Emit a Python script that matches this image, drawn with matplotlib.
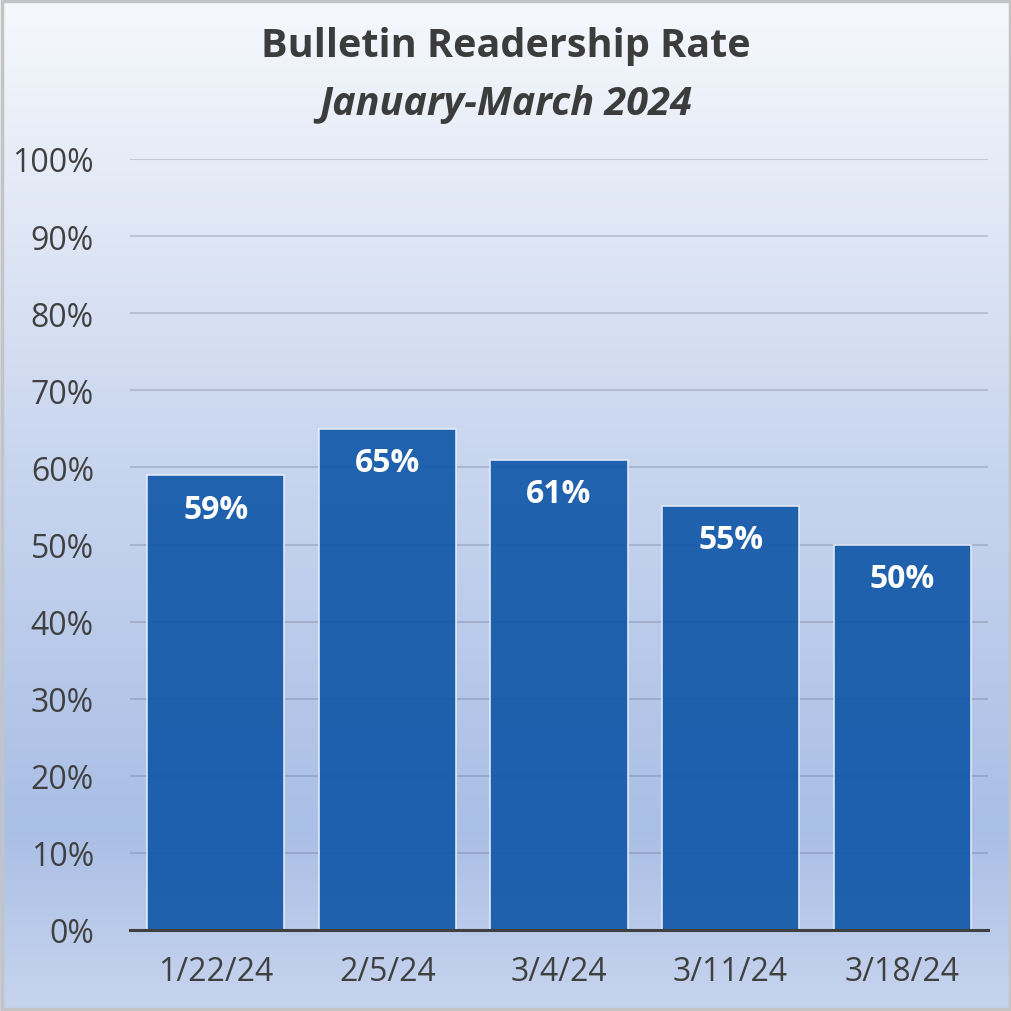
import numpy as np
import matplotlib
matplotlib.use('Agg')
from matplotlib import pyplot as plt
from matplotlib.colors import LinearSegmentedColormap

plt.rcParams['font.family'] = ['Open Sans', 'DejaVu Sans']

# data
dates = ['1/22/24', '2/5/24', '3/4/24', '3/11/24', '3/18/24']
rates = [59, 65, 61, 55, 50]
y_ticks = list(range(0, 101, 10))
y_labels = [f'{t}%' for t in y_ticks]

fig = plt.figure(figsize=(10.12, 10.12), dpi=100)

# gradient background for the whole figure
bg = fig.add_axes([0, 0, 1, 1], zorder=-10)
grad_cmap = LinearSegmentedColormap.from_list(
    'bg', [(0.0, '#c7d4ee'), (0.18, '#aabfe6'), (0.55, '#c9d6ef'), (1.0, '#f6f8fc')])
bg.imshow(np.linspace(0, 1, 256).reshape(-1, 1), aspect='auto', cmap=grad_cmap,
          origin='lower', extent=[0, 1, 0, 1])
bg.set_xlim(0, 1)
bg.set_ylim(0, 1)
bg.axis('off')
bg.add_patch(plt.Rectangle((0.0015, 0.0015), 0.997, 0.997, transform=bg.transAxes,
                           fill=False, edgecolor='#c4c4c4', linewidth=2.5))

ax = fig.add_axes([130/1012, 1 - 931/1012, 858/1012, 771/1012])
ax.patch.set_alpha(0)

x = np.arange(len(dates))
bars = ax.bar(x, rates, width=0.8, color='#1258a8', alpha=0.92,
              edgecolor='#e8eefa', linewidth=1.2, zorder=3)
for xi, r in zip(x, rates):
    ax.text(xi, r - 4.4, f'{r}%', ha='center', va='center', color='white',
            fontsize=23, fontweight='bold', zorder=4)

ax.set_xlim(-0.5, len(dates) - 0.5)
ax.set_ylim(0, 100)
ax.set_yticks(y_ticks)
ax.set_yticklabels(y_labels)
ax.set_xticks(x)
ax.set_xticklabels(dates)
ax.tick_params(axis='both', length=0, labelsize=23, labelcolor='#404040')
ax.tick_params(axis='y', pad=26)
ax.tick_params(axis='x', pad=18)
ax.yaxis.grid(True, color='#4a5468', alpha=0.22, linewidth=1.5, zorder=0)
ax.set_axisbelow(False)
for s in ['top', 'right', 'left']:
    ax.spines[s].set_visible(False)
ax.spines['bottom'].set_color('#404040')
ax.spines['bottom'].set_linewidth(2.2)
ax.spines['bottom'].set_zorder(5)

fig.text(0.5, 1 - 47/1012, 'Bulletin Readership Rate', ha='center', va='center',
         fontsize=28.5, fontweight='bold', color='#3c3c3c')
fig.text(0.5, 1 - 104/1012, 'January-March 2024', ha='center', va='center',
         fontsize=28.5, fontweight='bold', fontstyle='italic', color='#3c3c3c')

fig.savefig('out.png', dpi=100)
